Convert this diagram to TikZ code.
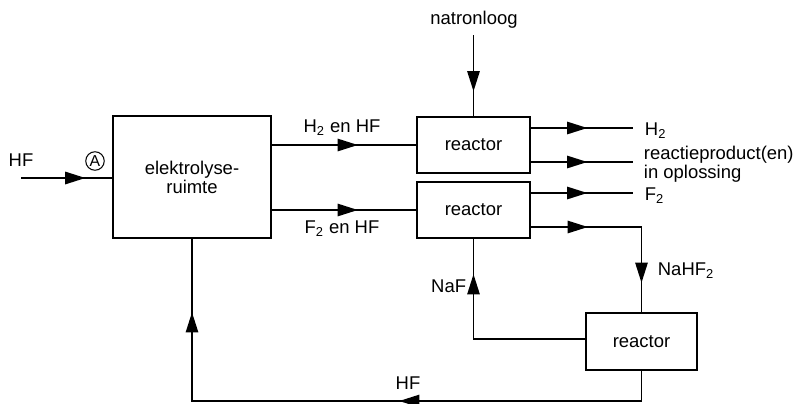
\documentclass[tikz,border=0pt]{standalone}
\usepackage{fontspec}
\setmainfont{Liberation Sans}
\usetikzlibrary{arrows.meta,decorations.markings}
\tikzset{
  tri/.tip={Triangle[length=11.5pt,width=7pt]},
  box/.style={draw, line width=1pt, inner sep=0pt},
  lbl/.style={inner sep=0pt, font=\fontsize{10.5}{8.4}\selectfont},
  mk/.style={decoration={markings, mark=at position #1 with {\arrow{tri}}}, postaction={decorate}},
  mktwo/.style 2 args={decoration={markings, mark=at position #1 with {\arrow{tri}}, mark=at position #2 with {\arrow{tri}}}, postaction={decorate}},
}
\begin{document}
\begin{tikzpicture}[x=0.02cm, y=-0.02cm, line width=1.05pt, font=\fontsize{10.5}{8.4}\selectfont]
\useasboundingbox (0,0) rectangle (795,403);

% boxes
\node[box, minimum width=3.16cm, minimum height=2.44cm, align=center] (E) at (192,177) {elektrolyse-\\ruimte};
\node[box, minimum width=2.26cm, minimum height=1.12cm] (R1) at (473.5,145) {reactor};
\node[box, minimum width=2.26cm, minimum height=1.12cm] (R2) at (473.5,210) {reactor};
\node[box, minimum width=2.22cm, minimum height=1.14cm] (R3) at (641.5,341.5) {reactor};

% input HF
\coordinate (hfin) at (21,178);
\draw[mk=0.707] (hfin) -- (hfin -| E.west);
\node[lbl] (lhf) at (21,160) {HF};
\node[circle, draw, line width=0.6pt, inner sep=0pt, minimum size=0.37cm, font=\fontsize{9}{9}\selectfont] (ca) at (95,161) {A};

% electrolysis to reactors
\draw[mk=0.596] (E.east |- R1.west) -- (R1.west);
\draw[mk=0.596] (E.east |- R2.west) -- (R2.west);
\node[lbl] (lh2hf) at (342,128) {H\textsubscript{2} en HF};
\node[lbl] (lf2hf) at (342,229) {F\textsubscript{2} en HF};

% natronloog
\node[lbl] (nat) at (474,20) {natronloog};
\coordinate (natend) at (473.5,35);
\draw[mk=0.695] (natend) -- (R1.north);

% outputs reactor 1
\coordinate (o1) at (633,128);
\coordinate (o2) at (633,162);
\draw[mk=0.553] (o1 -| R1.east) -- (o1);
\draw[mk=0.553] (o2 -| R1.east) -- (o2);
\node[lbl, anchor=west] (lh2) at (644,131) {H\textsubscript{2}};
\node[lbl, anchor=west, align=left] (lprod) at (643,164) {reactieproduct(en)\\in oplossing};

% outputs reactor 2
\coordinate (o3) at (633,193);
\draw[mk=0.553] (o3 -| R2.east) -- (o3);
\node[lbl, anchor=west] (lf2) at (644,196) {F\textsubscript{2}};
\coordinate (c1) at (641.5,227);
\draw[mktwo={1.14cm}{3.33cm}] (c1 -| R2.east) -- (c1) -- (R3.north);
\node[lbl, anchor=west] (lnahf2) at (657,271) {NaHF\textsubscript{2}};

% NaF return
\coordinate (c2) at (473.5,339);
\draw[mk=3.53cm] (c2 -| R3.west) -- (c2) -- (R2.south);
\node[lbl, anchor=east] (lnaf) at (467,286) {NaF};

% HF recycle
\coordinate (c3) at (641.5,401);
\coordinate (c4) at (192,401);
\draw[mktwo={5.45cm}{11.37cm}] (R3.south) -- (c3) -- (c4) -- (E.south);
\node[lbl] (lhfb) at (408,383) {HF};
\end{tikzpicture}
\end{document}
